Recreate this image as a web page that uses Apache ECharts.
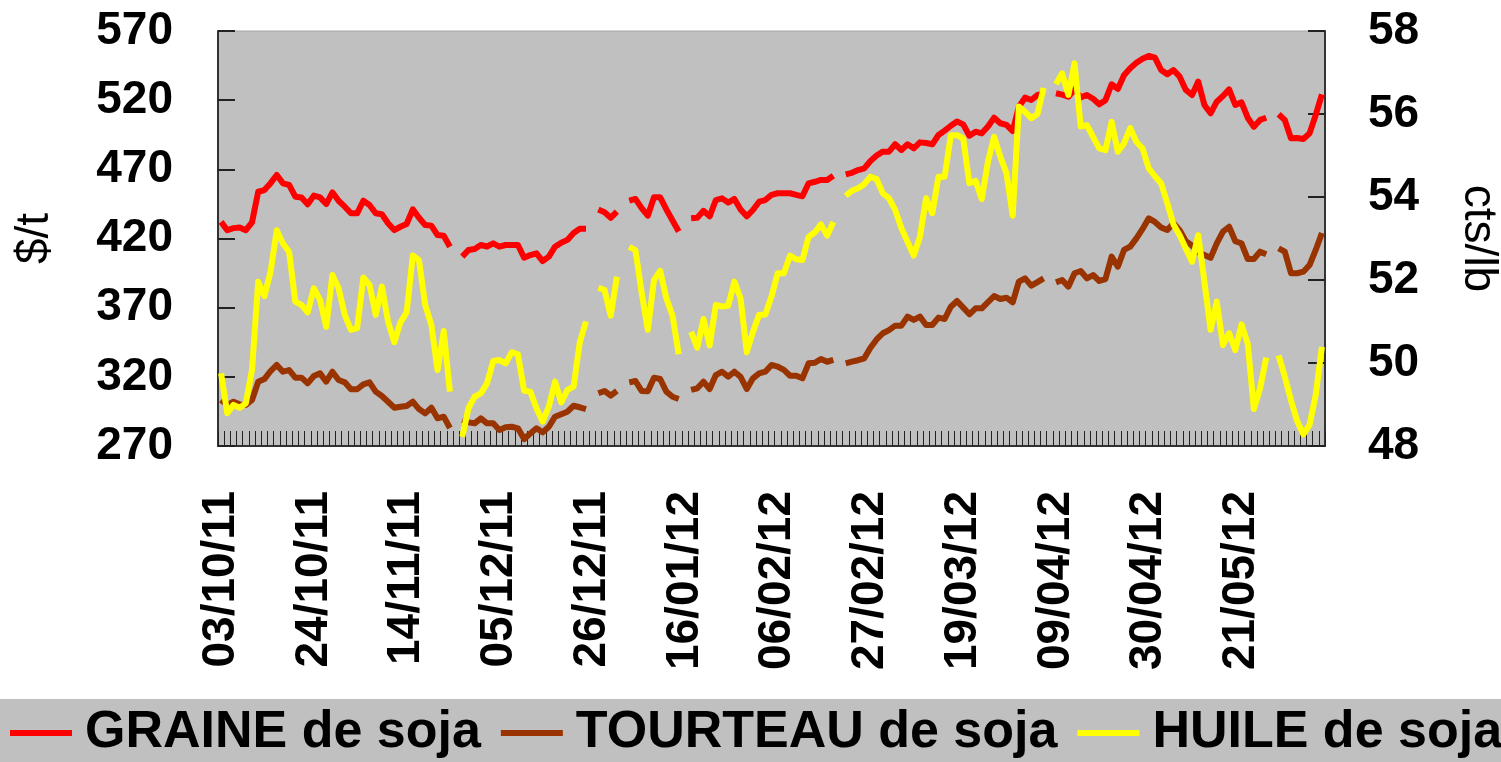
<!DOCTYPE html>
<html>
<head>
<meta charset="utf-8">
<script src="https://cdn.jsdelivr.net/npm/echarts@6.0.0/dist/echarts.min.js"></script>
<style>
  html, body { margin: 0; padding: 0; background: #ffffff; }
  #main { width: 1501px; height: 762px; }
</style>
</head>
<body>
<div id="main"></div>
<script>
// cours soja : graine, tourteau ($/t) et huile (cts/lb), jours ouvrés du 03/10/11 au 07/06/12
var nbJours = 179
var seriesNames = ['GRAINE de soja', 'TOURTEAU de soja', 'HUILE de soja']
var seriesColors = ['#ff0000', '#993300', '#ffff00']

var graine = [
  432, 426, 427.5, 428, 426, 431.7, 453.8, 455, 460, 465.9,
  459.9, 458.7, 450.2, 449.7, 444.7, 451, 449.7, 444.9, 453.4, 447.3,
  443, 438.2, 438.2, 447.3, 444.2, 438.2, 437.5, 431, 426.1, 428.5,
  430.5, 441.1, 435, 429.8, 429.3, 422.5, 422, 414, null,
  406.9, 411.7, 412.4, 415.3, 414.2, 416.5, 414.1, 415.3, 415.3, 415.3, 406.1,
  408, 409.3, 403.7, 406.9, 414.1, 417, 419, 424, 427, 427, null,
  441, 439, 435, 439.4, null,
  447.3, 448.6, 442, 436.5, 449.8, 449.8, 441, 433, 425, null,
  434.6, 435, 440, 436, 447.8, 449, 446, 448.6, 441, 436, 440.6, 446.6, 447.8, 451.5, 452.7,
  452.7, 452.7, 451.5, 450.5, 459.9, 461, 462.3, 462.3, 465.4, null,
  466.4, 467.5, 469.5, 470.7, 476, 480, 482.8, 482.8, 488.1, 484,
  488.1, 485.2, 489.5, 489, 488.1, 494.8, 498, 501.5, 504.5, 502.5,
  494.3, 497.2, 496, 501, 507.3, 503.3, 502.1, 497.7, 515.3, 521.8,
  520.1, 523.7, 524.5, null,
  525, 524, 522.5, 527.8, 522, 523.7, 521, 517, 520, 531.5,
  528.1, 538, 543, 547, 550, 552, 550.7, 541.8, 538.7, 541.8,
  537, 527.4, 523.7, 533.4, 516.5, 510.5, 518.9, 523, 527.8, 516.5,
  518.4, 507.3, 500.8, 505.7, 507.3, null,
  509.8, 505.7, 492.4, 492.7, 491.9, 496, 509.3, 524.2
]

var tourteau = [
  303.3, 299.6, 302, 300.1, 299.6, 303.3, 316.5, 318.4, 324.2, 328.6,
  323.7, 324.9, 319.4, 319.4, 315.3, 320.6, 322.5, 316.5, 323.7, 317.7,
  316, 311, 311, 314.6, 316, 309.3, 306.1, 302, 297.7, 298.4,
  298.9, 302, 296.7, 293.6, 297.7, 290, 291.2, 283, null,
  288.8, 287.1, 286.4, 290, 286.4, 286.4, 281.6, 283.5, 283.9, 282.8, 275,
  279, 282.8, 279.9, 283.9, 291.2, 293, 294.8, 299.1, 298, 296.7, null,
  308.1, 309.8, 306.4, 309.8, null,
  316, 317, 309.8, 309.5, 319.4, 318.4, 309.3, 305.6, 304, null,
  310.5, 311.7, 316.5, 311.2, 321.3, 323.7, 320.1, 323.7, 320, 311.2, 318.9, 322.5, 323.7, 328.6, 327.4,
  325, 320.8, 320.8, 318.9, 329.8, 330.2, 332.9, 330.9, 332.2, null,
  329.8, 331, 332, 333.4, 341, 347, 351.5, 353.8, 357, 357,
  363.5, 361.1, 363.5, 357.5, 357.5, 362.8, 361.8, 370.7, 374.8, 370,
  365.2, 369.5, 369.5, 374, 378.4, 376.3, 377.2, 373.9, 388.8, 391.2,
  385.9, 388.5, 391.2, null,
  388.3, 390, 385.2, 394.9, 396.5, 391.2, 393.6, 389.3, 390.7, 406.9,
  399.6, 411.7, 414.1, 420.1, 426.9, 434.6, 432, 428, 426.1, 431,
  426, 418, 415, 410, 408, 406, 416.5, 425, 428.5, 418,
  416.5, 405.2, 405.2, 410.5, 408.6, null,
  412.9, 410.5, 394.9, 394.9, 396, 400.8, 411.7, 424
]

var huile = [
  49.75, 48.79, 48.99, 48.92, 49.03, 49.83, 51.96, 51.61, 52.2, 53.2,
  52.88, 52.68, 51.48, 51.4, 51.22, 51.8, 51.52, 50.87, 52.12, 51.8,
  51.16, 50.8, 50.84, 52.06, 51.88, 51.16, 51.84, 51, 50.5, 50.98,
  51.22, 52.59, 52.48, 51.4, 50.92, 49.83, 50.77, 49.31, null,
  48.22, 48.91, 49.19, 49.27, 49.51, 50.05, 50.07, 49.99, 50.26, 50.21, 49.33,
  49.31, 48.91, 48.59, 48.95, 49.55, 49.05, 49.35, 49.43, 50.5, 51, null,
  51.81, 51.76, 51.14, 52.08, null,
  52.8, 52.72, 51.7, 50.8, 52, 52.22, 51.56, 51.14, 50.21, null,
  50.75, 50.37, 51.06, 50.42, 51.4, 51.36, 51.38, 51.96, 51.56, 50.26, 50.75, 51.16, 51.17, 51.6, 52.16,
  52.16, 52.59, 52.5, 52.48, 53.04, 53.15, 53.34, 53.07, 53.4, null,
  54.03, 54.15, 54.21, 54.31, 54.49, 54.43, 54.09, 53.97, 53.69, 53.25,
  52.92, 52.59, 53.04, 53.97, 53.61, 54.49, 54.49, 55.49, 55.49, 55.41,
  54.33, 54.39, 53.95, 54.85, 55.45, 54.97, 54.57, 53.55, 56.18, 56.05,
  55.9, 56, 56.63, null,
  56.72, 56.98, 56.46, 57.22, 55.7, 55.73, 55.45, 55.17, 55.13, 55.81,
  55.09, 55.29, 55.66, 55.33, 55.17, 54.69, 54.5, 54.33, 53.85, 53.34,
  53.08, 52.76, 52.44, 53.08, 51.96, 50.8, 51.48, 50.43, 50.72, 50.31,
  50.93, 50.47, 48.89, 49.39, 50.13, null,
  50.18, 49.67, 49.1, 48.6, 48.28, 48.51, 49.23, 50.39
]

// axes
var leftMin = 270, leftMax = 570, leftStep = 50
var rightMin = 48, rightMax = 58, rightStep = 2

function pad(n) {
  return n < 10 ? '0' + n : '' + n
}

// jours ouvrés (les jours fériés US restent dans la liste, valeur vide)
function joursOuvres(debut, n) {
  var out = []
  var d = new Date(debut.getTime())
  while (out.length < n) {
    var wd = d.getDay()
    if (wd != 0 && wd != 6) {
      out.push(pad(d.getDate()) + '/' + pad(d.getMonth() + 1) + '/' + String(d.getFullYear()).slice(2))
    }
    d.setDate(d.getDate() + 1)
  }
  return out
}
var dates = joursOuvres(new Date(2011, 9, 3), nbJours)

var police = 'Arial, "Liberation Sans", sans-serif'
var labelStyle = {
  color: '#000',
  fontSize: 46,
  fontWeight: 'bold',
  fontFamily: police
}

var mychart = echarts.init(document.getElementById('main'))
var option = {
  animation: false,
  backgroundColor: '#ffffff',
  grid: {
    left: 218,
    right: 176,
    top: 31,
    bottom: 316,
    outerBoundsMode: 'none',
    containLabel: false,
    show: true,
    backgroundColor: '#c0c0c0',
    borderColor: '#a6a6a6',
    borderWidth: 1
  },
  legend: {
    data: seriesNames,
    left: 0,
    top: 699,
    width: 1900,
    padding: [8, 10, 8, 10],
    backgroundColor: '#c0c0c0',
    icon: 'rect',
    itemWidth: 62,
    itemHeight: 6,
    itemGap: 20,
    textStyle: {
      color: '#000',
      fontSize: 52,
      fontWeight: 'bold',
      fontFamily: police,
      padding: [0, 0, 0, 8]
    }
  },
  xAxis: {
    type: 'category',
    data: dates,
    boundaryGap: true,
    axisLine: { show: true, lineStyle: { color: '#333', width: 2 } },
    axisTick: {
      show: true,
      inside: true,
      length: 15,
      interval: 0,
      lineStyle: { color: '#222', width: 1 }
    },
    axisLabel: Object.assign({ interval: 14, rotate: 90, margin: 45 }, labelStyle),
    splitLine: { show: false }
  },
  yAxis: [{
      type: 'value',
      position: 'left',
      min: leftMin,
      max: leftMax,
      interval: leftStep,
      name: '$/t',
      nameLocation: 'middle',
      nameRotate: 90,
      nameGap: 160,
      nameTextStyle: { color: '#000', fontSize: 46, fontFamily: police },
      axisLine: { show: true, lineStyle: { color: '#333', width: 2 } },
      axisTick: { show: true, inside: true, length: 17, lineStyle: { color: '#222', width: 2 } },
      axisLabel: Object.assign({ margin: 45 }, labelStyle),
      splitLine: { show: false }
    },
    {
      type: 'value',
      position: 'right',
      min: rightMin,
      max: rightMax,
      interval: rightStep,
      name: 'cts/lb',
      nameLocation: 'middle',
      nameRotate: -90,
      nameGap: 130,
      nameTextStyle: { color: '#000', fontSize: 46, fontFamily: police },
      axisLine: { show: true, lineStyle: { color: '#333', width: 2 } },
      axisTick: { show: true, inside: true, length: 17, lineStyle: { color: '#222', width: 2 } },
      axisLabel: Object.assign({ margin: 43 }, labelStyle),
      splitLine: { show: false }
    }
  ],
  series: [{
      name: seriesNames[0],
      type: 'line',
      yAxisIndex: 0,
      data: graine,
      color: seriesColors[0],
      showSymbol: false,
      connectNulls: false,
      lineStyle: { width: 6, color: seriesColors[0], cap: 'butt', join: 'round' }
    },
    {
      name: seriesNames[1],
      type: 'line',
      yAxisIndex: 0,
      data: tourteau,
      color: seriesColors[1],
      showSymbol: false,
      connectNulls: false,
      lineStyle: { width: 6, color: seriesColors[1], cap: 'butt', join: 'round' }
    },
    {
      name: seriesNames[2],
      type: 'line',
      yAxisIndex: 1,
      data: huile,
      color: seriesColors[2],
      showSymbol: false,
      connectNulls: false,
      lineStyle: { width: 6, color: seriesColors[2], cap: 'butt', join: 'round' }
    }
  ]
}
mychart.setOption(option)
</script>
</body>
</html>
